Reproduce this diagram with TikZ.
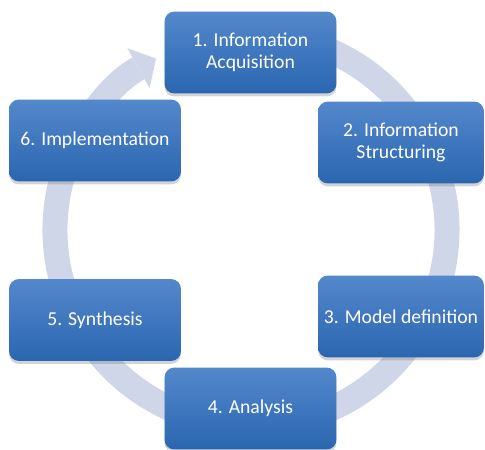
\documentclass[tikz,border=0pt]{standalone}
\usepackage{fontspec}
\setmainfont{Carlito}
\usetikzlibrary{arrows.meta,shadows}
\definecolor{ringgray}{RGB}{207,214,232}
\definecolor{boxtop}{RGB}{84,136,204}
\definecolor{boxbottom}{RGB}{42,102,176}

\begin{document}
\begin{tikzpicture}[x=0.02cm, y=0.02cm,
      stage/.style = {shape=rectangle, rounded corners=0.2cm,
        align=center, text=white, font=\fontsize{11.2}{12.4}\selectfont,
        minimum width=3.44cm, minimum height=1.64cm, inner sep=2pt,
        top color=boxtop, bottom color=boxbottom,
        drop shadow={opacity=0.35, shadow xshift=0pt, shadow yshift=-0.06cm}},
      ring/.style = {draw=ringgray, line width=0.5cm,
        -{Triangle[width=0.92cm, length=0.4cm, line width=0pt]}}]
  \useasboundingbox (0,0) rectangle (485,450);
  \coordinate (hub) at (251,220);
  % circular arrow behind the boxes
  \draw[ring] (hub) ++(75:196) arc[start angle=75, end angle=-241, radius=196];
  % the six stages
  \node[stage] (acq) at (250.5,397.5) {1. Information\\Acquisition};
  \node[stage, minimum width=3.32cm] (struct) at (401,307.5) {2. Information\\Structuring};
  \node[stage, minimum width=3.32cm] (model) at (401,133.5) {3. Model definition};
  \node[stage] (anal) at (250.5,41.5) {4. Analysis};
  \node[stage] (synth) at (95,130) {5. Synthesis};
  \node[stage] (impl) at (95,309.5) {6. Implementation};
\end{tikzpicture}
\end{document}
